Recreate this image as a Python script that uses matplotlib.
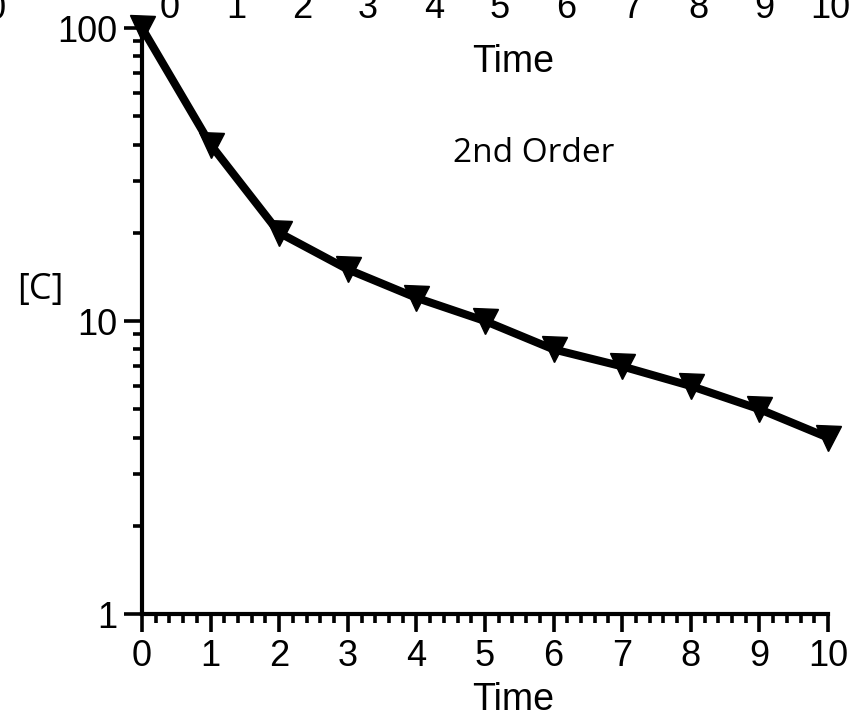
import matplotlib
matplotlib.use("Agg")
import matplotlib.pyplot as plt
from matplotlib.ticker import FixedLocator, NullFormatter, MultipleLocator

# data
time = [0, 1, 2, 3, 4, 5, 6, 7, 8, 9, 10]
conc = [100, 40, 20, 15, 12, 10, 8, 7, 6, 5, 4]
x_ticks = [0, 1, 2, 3, 4, 5, 6, 7, 8, 9, 10]
y_ticks = [1, 10, 100]
y_tick_labels = ["1", "10", "100"]
top_ticks = [0, 1, 2, 3, 4, 5, 6, 7, 8, 9, 10]

plt.rcParams['font.family'] = ['Liberation Sans', 'DejaVu Sans']

W, H = 867, 719
fig = plt.figure(figsize=(W / 100, H / 100), dpi=100)

def px(x0, y0, x1, y1):
    return [x0 / W, 1 - y1 / H, (x1 - x0) / W, (y1 - y0) / H]

ax = fig.add_axes(px(142, 28, 828, 614))
ax.plot(time, conc, color='black', lw=5.8, marker='v', ms=18,
        solid_joinstyle='miter', clip_on=False, zorder=5)
ax.set_yscale('log')
ax.set_ylim(1, 100)
ax.set_xlim(0, 10)
ax.set_yticks(y_ticks)
ax.set_yticklabels(y_tick_labels)
ax.yaxis.set_minor_locator(FixedLocator([v * d for d in (1, 10) for v in range(2, 10)]))
ax.yaxis.set_minor_formatter(NullFormatter())
ax.set_xticks(x_ticks)
ax.xaxis.set_minor_locator(MultipleLocator(0.2))
for s in ['top', 'right']:
    ax.spines[s].set_visible(False)
for s in ['left', 'bottom']:
    ax.spines[s].set_linewidth(3)
ax.tick_params(which='major', length=13, width=2.6, labelsize=26, pad=5, direction='out')
ax.tick_params(which='minor', length=6.5, width=2.6, direction='out')
ax.set_xlabel('Time', fontsize=27)
ax.xaxis.set_label_coords(513 / W, 1 - 700 / H, transform=fig.transFigure)
ax.xaxis.label.set_va('center')
ax.set_ylabel('[C]', rotation=0, fontsize=26, family=['Open Sans', 'DejaVu Sans'],
              ha='center', va='center')
ax.yaxis.set_label_coords(40 / W, 1 - 290 / H, transform=fig.transFigure)
ax.text(5.71, (614 - 153) / 586, '2nd Order', transform=ax.get_xaxis_transform(),
        ha='center', va='center', fontsize=24, family=['Open Sans', 'DejaVu Sans'])

# partial axis of a neighbouring chart above (cut off)
ax2 = fig.add_axes(px(170, -200, 830, -16))
ax2.set_xlim(0, 10)
ax2.set_xticks(top_ticks)
ax2.set_yticks([])
for s in ax2.spines.values():
    s.set_visible(False)
ax2.patch.set_alpha(0)
ax2.tick_params(axis='x', length=0, labelsize=26, pad=5)
ax2.set_xlabel('Time', fontsize=27)
ax2.xaxis.set_label_coords(513 / W, 1 - 62 / H, transform=fig.transFigure)
ax2.xaxis.label.set_va('center')
fig.text(6 / W, 1 - 19 / H, '10', ha='right', va='baseline', fontsize=26)

fig.savefig('out.png', dpi=100)
